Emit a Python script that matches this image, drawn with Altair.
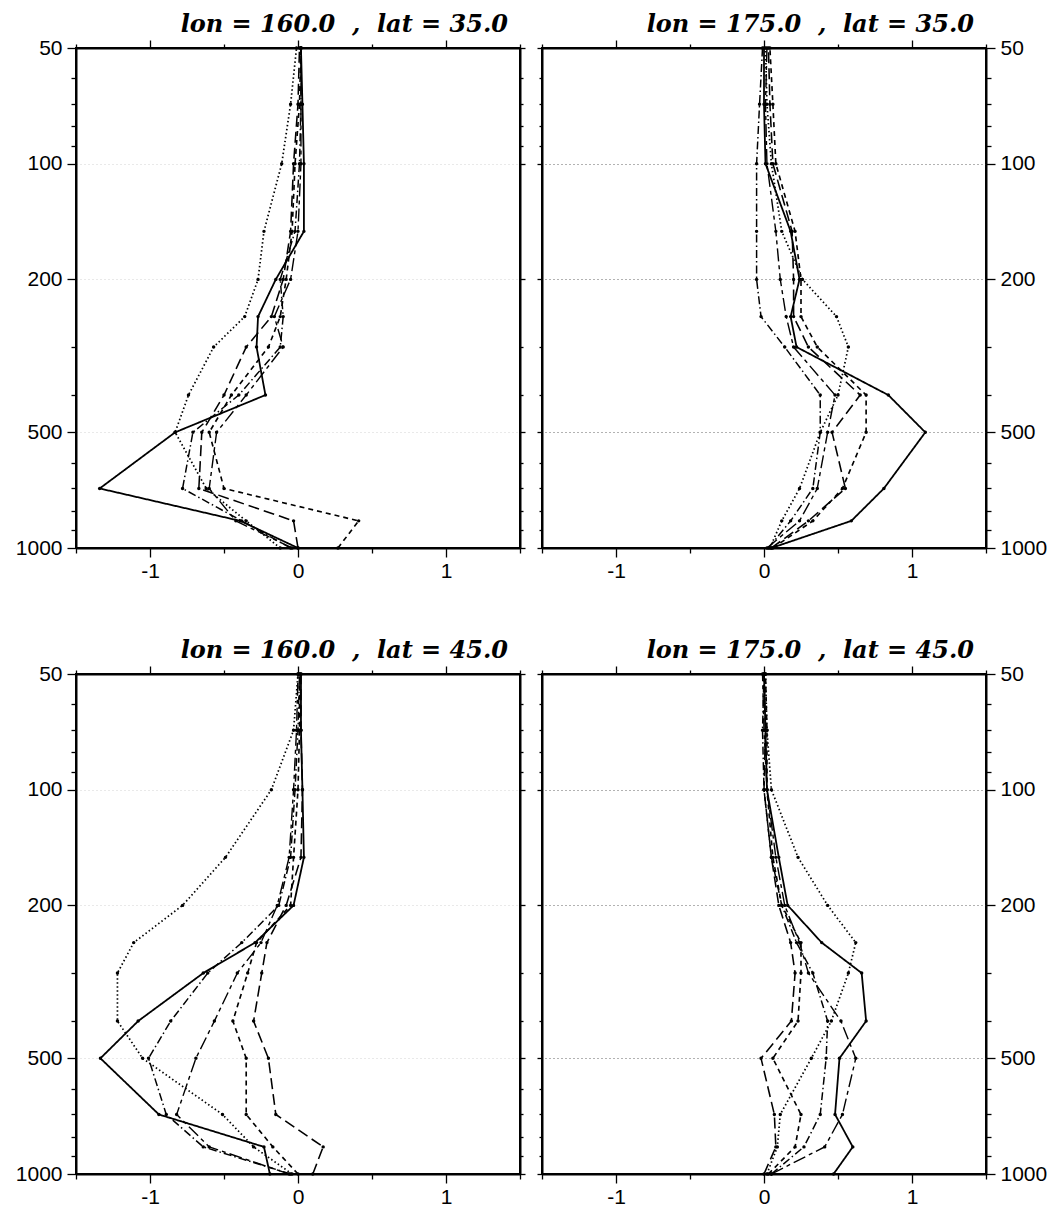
import altair as alt
import pandas as pd

# pressure levels (hPa), bottom to top
LEVELS = [1000, 850, 700, 500, 400, 300, 250, 200, 150, 100, 70, 50]
SERIES = ["s1", "s2", "s3", "s4", "s5", "s6"]

# lon = 160, lat = 35
TL_S1 = [0.00, -0.39, -1.34, -0.83, -0.22, -0.28, -0.27, -0.15, 0.04, 0.04, 0.03, 0.02]
TL_S2 = [-0.12, -0.35, -0.62, -0.83, -0.74, -0.57, -0.36, -0.27, -0.23, -0.11, -0.05, -0.01]
TL_S3 = [0.27, 0.41, -0.50, -0.60, -0.45, -0.20, -0.12, -0.08, -0.04, -0.02, 0.01, 0.02]
TL_S4 = [0.00, -0.03, -0.67, -0.65, -0.50, -0.35, -0.18, -0.10, -0.05, -0.03, 0.00, 0.01]
TL_S5 = [-0.05, -0.38, -0.78, -0.71, -0.40, -0.12, -0.10, -0.12, -0.02, 0.01, 0.02, 0.02]
TL_S6 = [-0.04, -0.42, -0.60, -0.55, -0.35, -0.10, -0.16, -0.05, 0.00, 0.02, 0.02, 0.02]

# lon = 175, lat = 35
TR_S1 = [0.05, 0.59, 0.81, 1.09, 0.84, 0.22, 0.18, 0.24, 0.18, 0.01, 0.00, 0.00]
TR_S2 = [0.04, 0.12, 0.24, 0.38, 0.50, 0.57, 0.49, 0.26, 0.12, 0.05, 0.02, 0.01]
TR_S3 = [0.06, 0.33, 0.53, 0.69, 0.69, 0.36, 0.25, 0.25, 0.21, 0.08, 0.06, 0.04]
TR_S4 = [0.05, 0.30, 0.55, 0.46, 0.65, 0.30, 0.20, 0.20, 0.19, 0.06, 0.04, 0.03]
TR_S5 = [0.03, 0.18, 0.33, 0.38, 0.38, 0.14, -0.02, -0.05, -0.05, -0.05, -0.03, -0.01]
TR_S6 = [0.02, 0.24, 0.36, 0.43, 0.48, 0.20, 0.15, 0.11, 0.08, 0.02, 0.01, 0.02]

# lon = 160, lat = 45
BL_S1 = [-0.19, -0.23, -0.94, -1.335, -1.08, -0.64, -0.29, -0.03, 0.04, 0.03, 0.02, 0.02]
BL_S2 = [-0.04, -0.30, -0.51, -1.05, -1.22, -1.22, -1.11, -0.78, -0.49, -0.18, -0.03, 0.00]
BL_S3 = [0.00, -0.17, -0.35, -0.35, -0.44, -0.34, -0.28, -0.05, -0.03, 0.00, 0.01, 0.01]
BL_S4 = [0.10, 0.17, -0.15, -0.20, -0.30, -0.245, -0.21, -0.08, 0.02, 0.03, 0.02, 0.02]
BL_S5 = [-0.05, -0.64, -0.89, -1.01, -0.86, -0.61, -0.38, -0.13, -0.05, -0.02, 0.00, 0.01]
BL_S6 = [-0.06, -0.60, -0.82, -0.69, -0.565, -0.41, -0.25, -0.14, -0.06, -0.03, -0.01, 0.00]

# lon = 175, lat = 45
BR_S1 = [0.47, 0.60, 0.48, 0.51, 0.69, 0.66, 0.39, 0.16, 0.10, 0.02, 0.01, 0.00]
BR_S2 = [0.02, 0.09, 0.11, 0.32, 0.455, 0.57, 0.62, 0.43, 0.23, 0.05, 0.02, 0.01]
BR_S3 = [0.03, 0.21, 0.25, 0.06, 0.23, 0.25, 0.25, 0.12, 0.06, 0.02, 0.02, 0.01]
BR_S4 = [0.00, 0.08, 0.07, -0.02, 0.185, 0.21, 0.18, 0.10, 0.05, 0.00, 0.01, 0.00]
BR_S5 = [0.05, 0.27, 0.38, 0.42, 0.43, 0.33, 0.22, 0.12, 0.05, 0.00, -0.01, 0.00]
BR_S6 = [0.05, 0.41, 0.53, 0.62, 0.52, 0.30, 0.24, 0.14, 0.08, 0.02, 0.00, -0.01]

PANELS = [
    ("tl", "lon = 160.0\u00a0\u00a0,\u00a0\u00a0lat = 35.0", "left", [TL_S1, TL_S2, TL_S3, TL_S4, TL_S5, TL_S6]),
    ("tr", "lon = 175.0\u00a0\u00a0,\u00a0\u00a0lat = 35.0", "right", [TR_S1, TR_S2, TR_S3, TR_S4, TR_S5, TR_S6]),
    ("bl", "lon = 160.0\u00a0\u00a0,\u00a0\u00a0lat = 45.0", "left", [BL_S1, BL_S2, BL_S3, BL_S4, BL_S5, BL_S6]),
    ("br", "lon = 175.0\u00a0\u00a0,\u00a0\u00a0lat = 45.0", "right", [BR_S1, BR_S2, BR_S3, BR_S4, BR_S5, BR_S6]),
]

DASHES = [[1, 0], [1.5, 2.5], [5, 4], [11, 5], [8, 3, 1.5, 3], [13, 4, 4, 4]]
WIDTHS = [1.8, 1.4, 1.3, 1.3, 1.3, 1.3]

Y_TICKS = [50, 60, 70, 80, 90, 100, 200, 300, 400, 500, 600, 700, 800, 900, 1000]
Y_MAJOR = "indexof([50,100,200,500,1000], datum.value) >= 0"
X_TICKS = [-1.5, -1, -0.5, 0, 0.5, 1, 1.5]
X_MAJOR = "datum.value == -1 || datum.value == 0 || datum.value == 1"

LABEL_FONT = "Liberation Sans"
LABEL_SIZE = 21


def panel(pid, title, side, series_vals):
    rows = []
    for s, vals in zip(SERIES, series_vals):
        for i, (lev, v) in enumerate(zip(LEVELS, vals)):
            rows.append({"series": s, "level": lev, "value": v, "idx": i})
    d = pd.DataFrame(rows)
    inner = "right" if side == "left" else "left"
    xs = alt.Scale(domain=[-1.5, 1.5], nice=False, zero=False)
    ys = alt.Scale(type="log", domain=[50, 1000], reverse=True, nice=False)
    grid_op = 0.25 if side == "left" else 0.9

    x_bottom = alt.Axis(
        orient="bottom", values=X_TICKS, grid=False, title=None,
        labelExpr="datum.value == -1 ? '-1' : datum.value == 0 ? '0' : datum.value == 1 ? '1' : ''",
        tickSize={"condition": {"test": X_MAJOR, "value": 9}, "value": 5},
        labelFont=LABEL_FONT, labelFontSize=LABEL_SIZE, labelPadding=3,
        labelOverlap=False, labelFlush=False,
    )
    x_top = alt.Axis(
        orient="top", values=X_TICKS, grid=False, title=None, labels=False,
        tickSize={"condition": {"test": X_MAJOR, "value": 8}, "value": 4},
    )
    y_main = alt.Axis(
        orient=side, values=Y_TICKS, title=None,
        labelExpr=Y_MAJOR + " ? toString(datum.value) : ''",
        tickSize={"condition": {"test": Y_MAJOR, "value": 9}, "value": 5},
        grid=True, gridDash=[1, 3], gridColor="#555555", gridWidth=1,
        gridOpacity={"condition": {"test": "datum.value == 100 || datum.value == 200 || datum.value == 500", "value": grid_op}, "value": 0},
        labelFont=LABEL_FONT, labelFontSize=LABEL_SIZE, labelPadding=5,
        labelOverlap=False, labelFlush=False,
    )
    y_inner = alt.Axis(
        orient=inner, values=Y_TICKS, title=None, labels=False, grid=False,
        tickSize={"condition": {"test": Y_MAJOR, "value": 5}, "value": 3},
    )

    lines = alt.Chart(d).mark_line(color="black", clip=True).encode(
        x=alt.X("value:Q", scale=xs, axis=x_bottom),
        y=alt.Y("level:Q", scale=ys, axis=y_main),
        strokeDash=alt.StrokeDash("series:N", scale=alt.Scale(domain=SERIES, range=DASHES), legend=None),
        strokeWidth=alt.StrokeWidth("series:N", scale=alt.Scale(domain=SERIES, range=WIDTHS), legend=None),
        order=alt.Order("idx:Q"),
    )
    pts = alt.Chart(d).mark_circle(color="black", size=12, opacity=1).encode(
        x=alt.X("value:Q", scale=xs, axis=x_top),
        y=alt.Y("level:Q", scale=ys, axis=y_inner),
    )
    return alt.layer(
        lines, pts,
        title=alt.TitleParams(
            text=title, anchor="end", frame="group", font="DejaVu Serif", fontSize=24,
            fontStyle="italic", fontWeight="bold", color="black", dx=-12, offset=0,
        ),
    ).resolve_axis(x="independent", y="independent").properties(width=444, height=500)


charts = [panel(*p) for p in PANELS]

chart = alt.concat(
    *charts, columns=2, spacing={"row": 126, "column": 22}, bounds="flush"
).properties(
    padding={"left": 6, "top": 4, "right": 0, "bottom": 0}
).configure_view(
    stroke="black", strokeWidth=2
).configure_axis(
    domainColor="black", domainWidth=2, tickColor="black", tickWidth=1.3,
    labelColor="black",
)

chart.save("out.html", embed_options={"renderer": "svg", "actions": False})
